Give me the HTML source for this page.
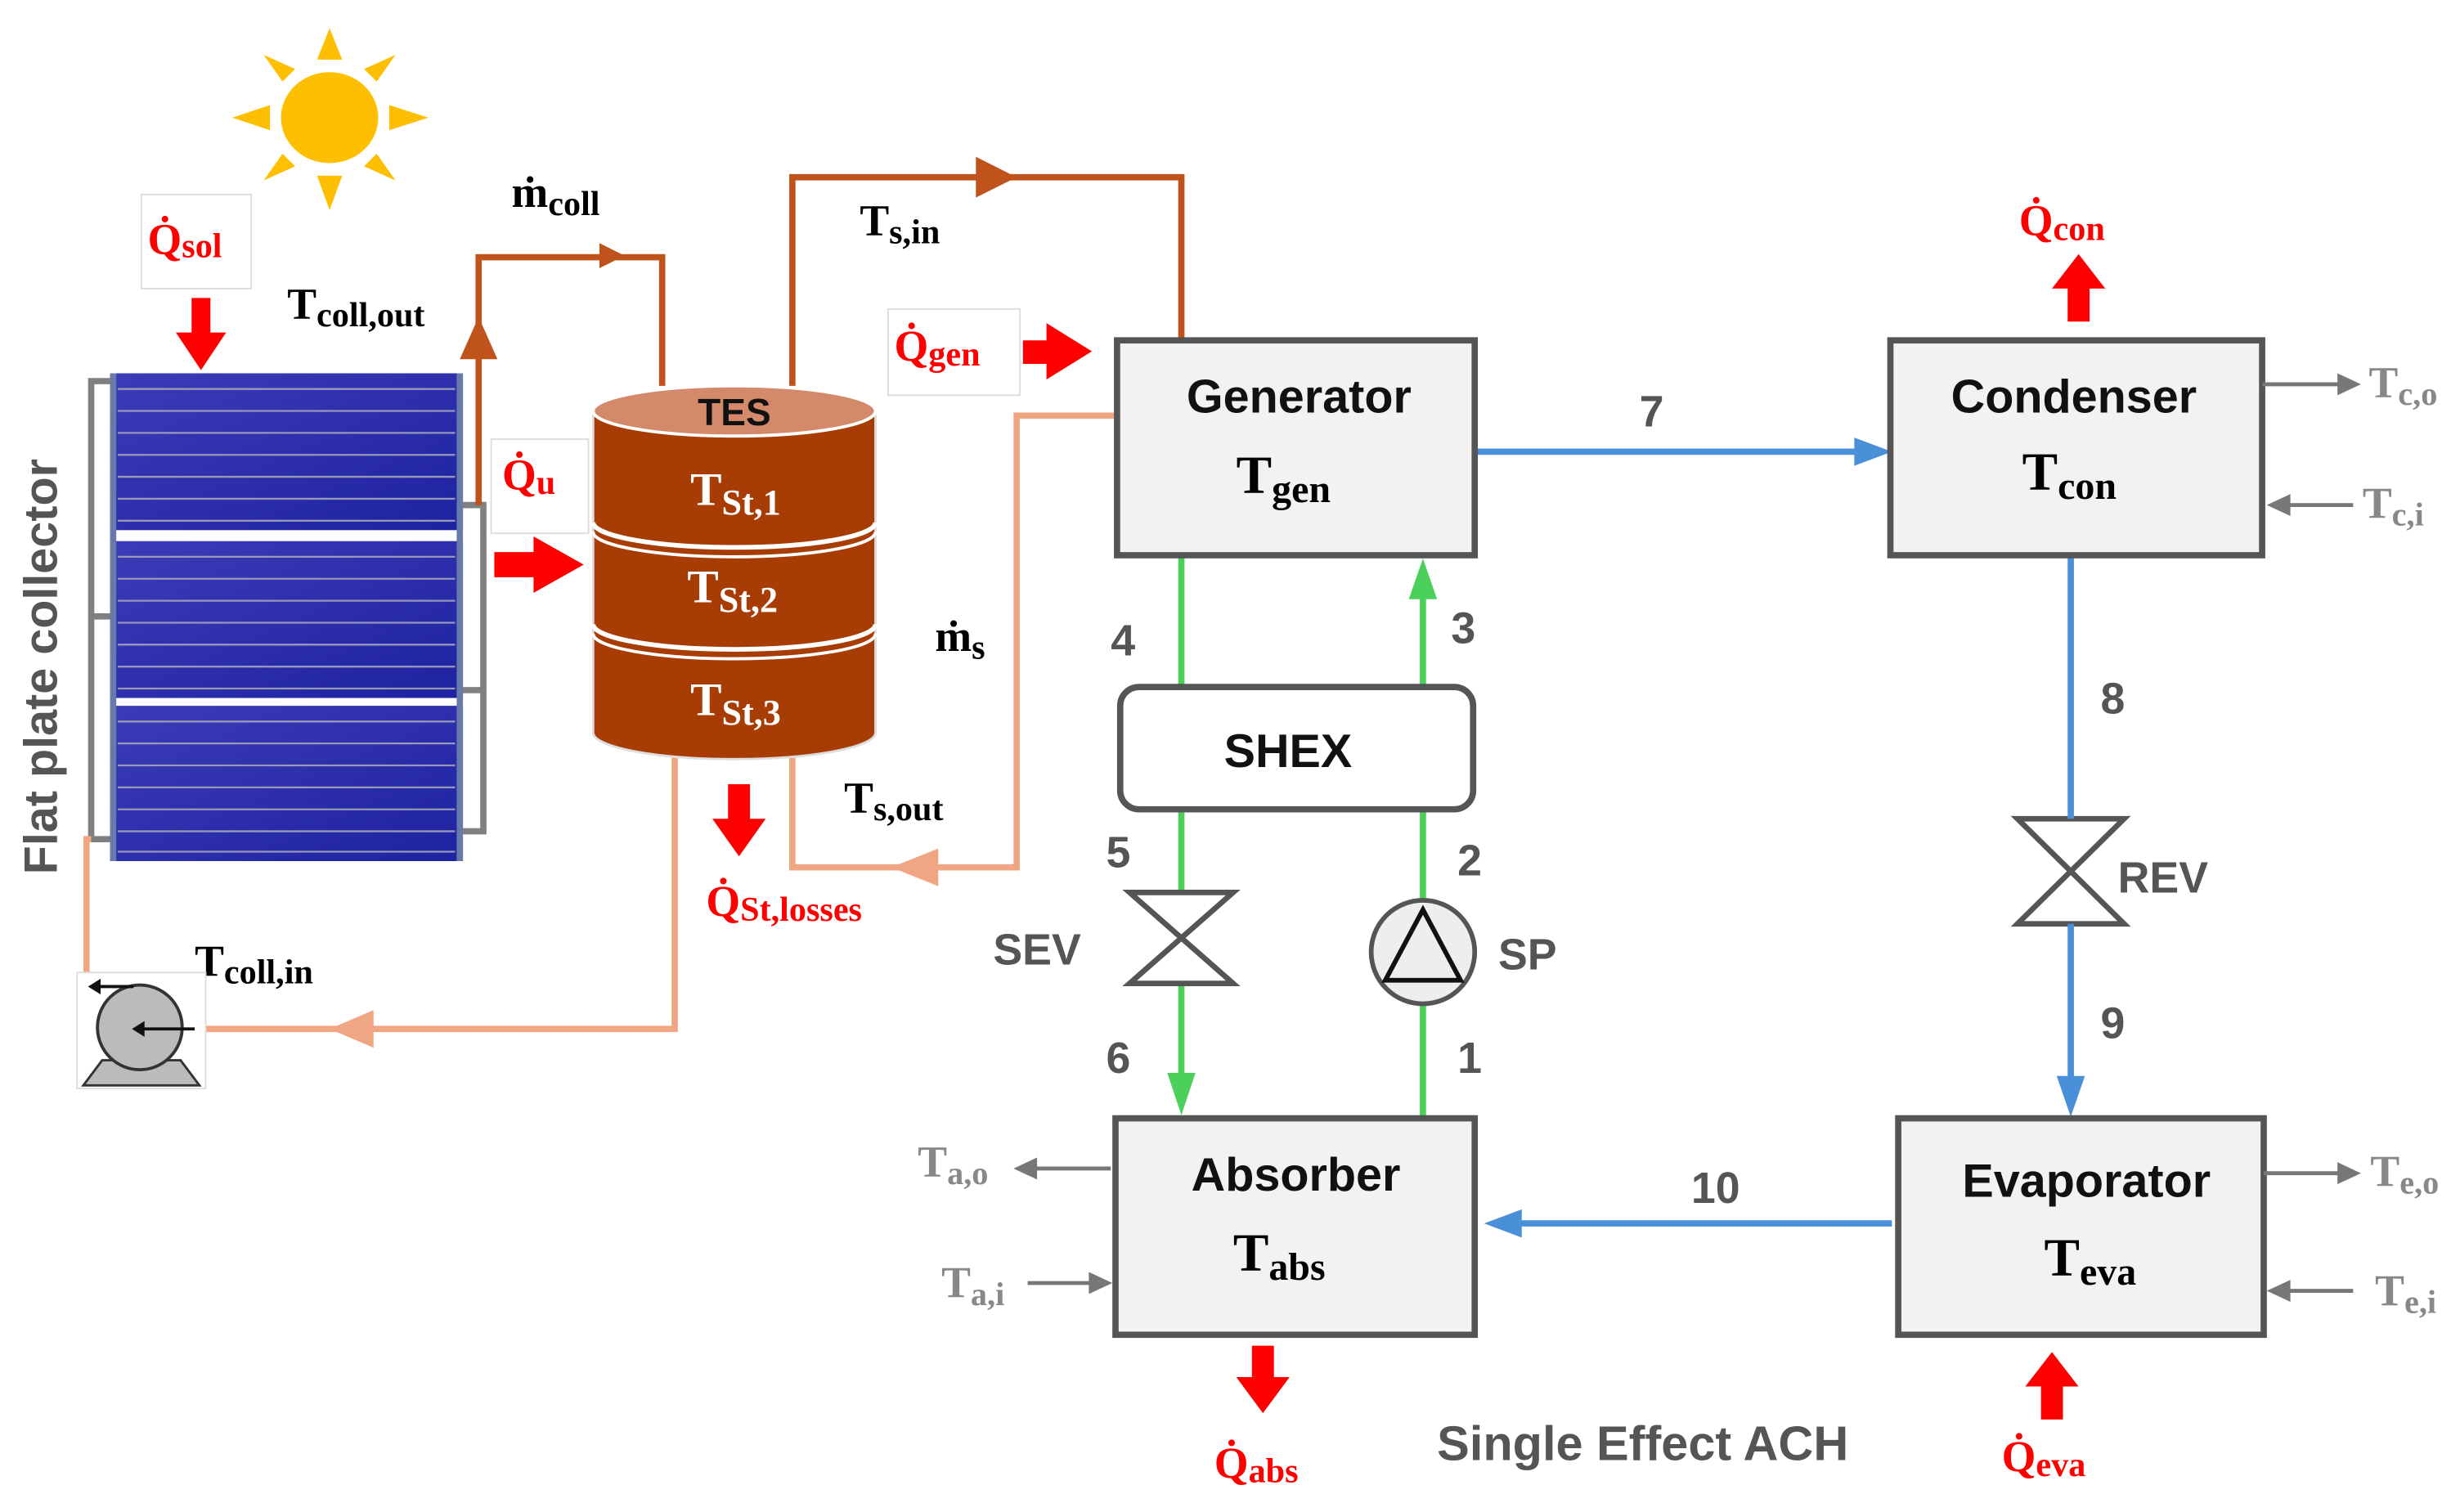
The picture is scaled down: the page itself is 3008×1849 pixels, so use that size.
<!DOCTYPE html>
<html><head><meta charset="utf-8"><style>
html,body{margin:0;padding:0;background:#fff;}
svg{display:block;}
.s{font-family:"Liberation Serif",serif;font-weight:bold;}
.a{font-family:"Liberation Sans",sans-serif;font-weight:bold;}
</style></head><body>
<svg width="3008" height="1849" viewBox="0 0 1568 964" xmlns="http://www.w3.org/2000/svg">
<defs>
<linearGradient id="pg" x1="0" y1="0" x2="1" y2="1"><stop offset="0" stop-color="#3c3cb8"/><stop offset="1" stop-color="#1e22a0"/></linearGradient>
</defs>

<!-- Sun -->
<g fill="#fdbf00">
<ellipse cx="210" cy="75" rx="31" ry="29"/>
<polygon points="202,38 218,38 210,18"/>
<polygon points="202,112 218,112 210,134"/>
<polygon points="172,67 172,83 148,75"/>
<polygon points="248,67 248,83 273,75"/>
<polygon points="180,52 188,44 168,35"/>
<polygon points="240,52 232,44 252,35"/>
<polygon points="180,98 188,106 168,115"/>
<polygon points="240,98 232,106 252,115"/>
</g>

<!-- Qsol -->
<rect x="90" y="124" width="70" height="60" fill="#fff" stroke="#ddd" stroke-width="1"/>
<text x="94" y="162" class="s" fill="#f00" font-size="28">Q̇<tspan font-size="22" dy="2">sol</tspan></text>
<polygon points="122,190 134,190 134,212 144,212 128,236 112,212 122,212" fill="#f00"/>
<text x="183" y="203" class="s" font-size="28">T<tspan font-size="22" dy="5">coll,out</tspan></text>

<!-- collector manifolds -->
<g fill="none" stroke="#808080" stroke-width="4">
<polyline points="70,243 58,243 58,535 70,535"/>
<line x1="58" y1="393" x2="70" y2="393"/>
<polyline points="295,322 308,322 308,530 295,530"/>
<line x1="295" y1="440" x2="308" y2="440"/>
</g>
<!-- panels -->
<g>
<rect x="70" y="238" width="225" height="100" fill="url(#pg)"/>
<rect x="70" y="345" width="225" height="100" fill="url(#pg)"/>
<rect x="70" y="450" width="225" height="99" fill="url(#pg)"/>
<g stroke="#aab" stroke-width="1.2" opacity="0.85">
<line x1="75" y1="248" x2="290" y2="248"/><line x1="75" y1="262" x2="290" y2="262"/><line x1="75" y1="276" x2="290" y2="276"/><line x1="75" y1="290" x2="290" y2="290"/><line x1="75" y1="304" x2="290" y2="304"/><line x1="75" y1="318" x2="290" y2="318"/><line x1="75" y1="332" x2="290" y2="332"/>
<line x1="75" y1="355" x2="290" y2="355"/><line x1="75" y1="369" x2="290" y2="369"/><line x1="75" y1="383" x2="290" y2="383"/><line x1="75" y1="397" x2="290" y2="397"/><line x1="75" y1="411" x2="290" y2="411"/><line x1="75" y1="425" x2="290" y2="425"/><line x1="75" y1="439" x2="290" y2="439"/>
<line x1="75" y1="460" x2="290" y2="460"/><line x1="75" y1="474" x2="290" y2="474"/><line x1="75" y1="488" x2="290" y2="488"/><line x1="75" y1="502" x2="290" y2="502"/><line x1="75" y1="516" x2="290" y2="516"/><line x1="75" y1="530" x2="290" y2="530"/><line x1="75" y1="543" x2="290" y2="543"/>
</g>
<g fill="#6a7aa8"><rect x="70" y="238" width="4" height="311"/><rect x="291" y="238" width="4" height="311"/></g>
</g>
<text transform="translate(36,425) rotate(-90)" text-anchor="middle" class="a" fill="#555" font-size="30">Flat plate collector</text>

<!-- orange collector outlet pipe -->
<polyline points="305,322 305,164 422,164 422,246" fill="none" stroke="#c0531b" stroke-width="4"/>
<polygon points="293,229 317,229 305,202" fill="#c0531b"/>
<polygon points="382,155 382,171 398,163" fill="#c0531b"/>
<text x="326" y="132" class="s" font-size="28">ṁ<tspan font-size="22" dy="5">coll</tspan></text>

<!-- Qu -->
<rect x="313" y="280" width="62" height="60" fill="#fff" stroke="#ddd" stroke-width="1"/>
<text x="320" y="312" class="s" fill="#f00" font-size="28">Q̇<tspan font-size="22" dy="3">u</tspan></text>
<polygon points="315,352 340,352 340,342 372,360 340,378 340,368 315,368" fill="#f00"/>

<!-- Ts,in pipe -->
<polyline points="505,246 505,113 753,113 753,217" fill="none" stroke="#c0531b" stroke-width="4"/>
<polygon points="622,100 622,126 648,113" fill="#c0531b"/>
<text x="548" y="150" class="s" font-size="28">T<tspan font-size="22" dy="5">s,in</tspan></text>

<!-- Qgen -->
<rect x="566" y="197" width="84" height="55" fill="#fff" stroke="#ddd" stroke-width="1"/>
<text x="570" y="230" class="s" fill="#f00" font-size="28">Q̇<tspan font-size="22" dy="3">gen</tspan></text>
<polygon points="652,217 667,217 667,206 696,224 667,242 667,232 652,232" fill="#f00"/>

<!-- light return pipes -->
<polyline points="711,265 648,265 648,553 505,553 505,483" fill="none" stroke="#f0a682" stroke-width="4"/>
<polygon points="598,541 598,565 568,553" fill="#f0a682"/>
<polyline points="430,483 430,656 130,656" fill="none" stroke="#f0a682" stroke-width="4"/>
<polygon points="238,644 238,668 210,656" fill="#f0a682"/>
<polyline points="55,620 55,535 58,535" fill="none" stroke="#f0a682" stroke-width="4"/>

<!-- TES tank -->
<g>
<path d="M378,262 L378,467 A90,17 0 0 0 558,467 L558,262 Z" fill="#a83c05" stroke="#ddd" stroke-width="1.5"/>
<ellipse cx="468" cy="262" rx="90" ry="16" fill="#d4896a" stroke="#fff" stroke-width="2"/>
<path d="M378,333 A90,16 0 0 0 558,333" fill="none" stroke="#fff" stroke-width="3"/>
<path d="M378,339 A90,16 0 0 0 558,339" fill="none" stroke="#fff" stroke-width="2"/>
<path d="M378,398 A90,16 0 0 0 558,398" fill="none" stroke="#fff" stroke-width="3"/>
<path d="M378,404 A90,16 0 0 0 558,404" fill="none" stroke="#fff" stroke-width="2"/>
<text x="468" y="271" text-anchor="middle" class="a" font-size="24" fill="#111">TES</text>
<text x="440" y="322" class="s" fill="#fff" font-size="30">T<tspan font-size="23" dy="6">St,1</tspan></text>
<text x="438" y="384" class="s" fill="#fff" font-size="30">T<tspan font-size="23" dy="6">St,2</tspan></text>
<text x="440" y="456" class="s" fill="#fff" font-size="30">T<tspan font-size="23" dy="6">St,3</tspan></text>
</g>

<polygon points="464,500 478,500 478,522 488,522 471,546 454,522 464,522" fill="#f00"/>
<text x="450" y="584" class="s" fill="#f00" font-size="28">Q̇<tspan font-size="22" dy="3">St,losses</tspan></text>
<text x="596" y="415" class="s" font-size="28">ṁ<tspan font-size="22" dy="5">s</tspan></text>
<text x="538" y="518" class="s" font-size="28">T<tspan font-size="22" dy="5">s,out</tspan></text>
<text x="124" y="622" class="s" font-size="28">T<tspan font-size="22" dy="5">coll,in</tspan></text>

<!-- Pump -->
<rect x="49" y="620" width="82" height="74" fill="#fff" stroke="#ddd" stroke-width="1"/>
<polygon points="53,692 127,692 115,676 65,676" fill="#bbb" stroke="#333" stroke-width="1.5"/>
<circle cx="89" cy="655" r="27" fill="#bbb" stroke="#333" stroke-width="2"/>
<line x1="90" y1="656" x2="124" y2="656" stroke="#111" stroke-width="2"/>
<polygon points="84,656 92,651 92,661" fill="#111"/>
<line x1="62" y1="629" x2="85" y2="629" stroke="#111" stroke-width="2"/>
<polygon points="56,629 64,624 64,634" fill="#111"/>

<!-- Green lines -->
<g stroke="#4cd05c" stroke-width="4" fill="none">
<line x1="753" y1="354" x2="753" y2="438"/>
<line x1="753" y1="516" x2="753" y2="568"/>
<line x1="753" y1="628" x2="753" y2="688"/>
<line x1="907" y1="438" x2="907" y2="378"/>
<line x1="907" y1="516" x2="907" y2="575"/>
<line x1="907" y1="640" x2="907" y2="713"/>
</g>
<polygon points="744,684 762,684 753,711" fill="#4cd05c"/>
<polygon points="898,382 916,382 907,356" fill="#4cd05c"/>

<!-- SEV valve -->
<polygon points="720,569 786,569 720,627 786,627" fill="#fff" stroke="#555" stroke-width="3.5"/>
<!-- SP pump -->
<circle cx="907" cy="607" r="33" fill="#eee" stroke="#555" stroke-width="3"/>
<polygon points="907,580 883,625 931,625" fill="none" stroke="#111" stroke-width="3"/>
<!-- REV valve -->
<polygon points="1286,522 1354,522 1286,589 1354,589" fill="#fff" stroke="#555" stroke-width="3.5"/>

<!-- Blue lines -->
<g stroke="#4a90d9" stroke-width="4" fill="none">
<line x1="940" y1="288" x2="1185" y2="288"/>
<line x1="1320" y1="354" x2="1320" y2="522"/>
<line x1="1320" y1="589" x2="1320" y2="690"/>
<line x1="1206" y1="780" x2="968" y2="780"/>
</g>
<polygon points="1182,279 1182,297 1206,288" fill="#4a90d9"/>
<polygon points="1311,686 1329,686 1320,712" fill="#4a90d9"/>
<polygon points="970,771 970,789 946,780" fill="#4a90d9"/>

<!-- Boxes -->
<g fill="#f2f2f2" stroke="#555" stroke-width="4">
<rect x="712" y="217" width="228" height="137"/>
<rect x="1205" y="217" width="237" height="137"/>
<rect x="711" y="713" width="229" height="138"/>
<rect x="1210" y="713" width="233" height="138"/>
</g>
<rect x="714" y="438" width="225" height="78" rx="12" fill="#fff" stroke="#555" stroke-width="4"/>

<g class="a" fill="#111" font-size="30" text-anchor="middle">
<text x="828" y="263">Generator</text>
<text x="1322" y="263">Condenser</text>
<text x="826" y="759">Absorber</text>
<text x="1330" y="763">Evaporator</text>
<text x="821" y="489">SHEX</text>
</g>
<text x="788" y="314" class="s" font-size="34">T<tspan font-size="25" dy="6">gen</tspan></text>
<text x="1289" y="312" class="s" font-size="34">T<tspan font-size="25" dy="6">con</tspan></text>
<text x="786" y="810" class="s" font-size="34">T<tspan font-size="25" dy="6">abs</tspan></text>
<text x="1303" y="813" class="s" font-size="34">T<tspan font-size="25" dy="6">eva</tspan></text>

<!-- numbers -->
<g class="a" fill="#555" font-size="28">
<text x="708" y="418">4</text>
<text x="925" y="410">3</text>
<text x="705" y="553">5</text>
<text x="929" y="558">2</text>
<text x="705" y="684">6</text>
<text x="929" y="684">1</text>
<text x="1045" y="272">7</text>
<text x="1339" y="455">8</text>
<text x="1339" y="662">9</text>
<text x="1078" y="767">10</text>
<text x="633" y="615">SEV</text>
<text x="955" y="618">SP</text>
<text x="1350" y="569">REV</text>
<text x="916" y="931" font-size="31">Single Effect ACH</text>
</g>

<!-- side gray arrows -->
<g stroke="#777" stroke-width="2.5">
<line x1="1442" y1="245" x2="1493" y2="245"/>
<line x1="1500" y1="322" x2="1457" y2="322"/>
<line x1="1443" y1="748" x2="1493" y2="748"/>
<line x1="1500" y1="823" x2="1457" y2="823"/>
<line x1="708" y1="745" x2="658" y2="745"/>
<line x1="655" y1="818" x2="696" y2="818"/>
</g>
<g fill="#777">
<polygon points="1490,238 1490,252 1505,245"/>
<polygon points="1460,315 1460,329 1445,322"/>
<polygon points="1490,741 1490,755 1505,748"/>
<polygon points="1460,816 1460,830 1445,823"/>
<polygon points="661,738 661,752 646,745"/>
<polygon points="694,811 694,825 709,818"/>
</g>
<g class="s" fill="#888" font-size="28">
<text x="1510" y="253">T<tspan font-size="21" dy="5">c,o</tspan></text>
<text x="1506" y="330">T<tspan font-size="21" dy="5">c,i</tspan></text>
<text x="1511" y="756">T<tspan font-size="21" dy="5">e,o</tspan></text>
<text x="1514" y="832">T<tspan font-size="21" dy="5">e,i</tspan></text>
<text x="585" y="750">T<tspan font-size="21" dy="5">a,o</tspan></text>
<text x="600" y="827">T<tspan font-size="21" dy="5">a,i</tspan></text>
</g>

<!-- heat arrows -->
<polygon points="1318,205 1332,205 1332,184 1342,184 1325,162 1308,184 1318,184" fill="#f00"/>
<text x="1287" y="150" class="s" fill="#f00" font-size="28">Q̇<tspan font-size="22" dy="3">con</tspan></text>
<polygon points="798,858 812,858 812,878 822,878 805,901 788,878 798,878" fill="#f00"/>
<text x="774" y="942" class="s" fill="#f00" font-size="28">Q̇<tspan font-size="22" dy="3">abs</tspan></text>
<polygon points="1301,905 1315,905 1315,884 1325,884 1308,862 1291,884 1301,884" fill="#f00"/>
<text x="1276" y="938" class="s" fill="#f00" font-size="28">Q̇<tspan font-size="22" dy="3">eva</tspan></text>
</svg>
</body></html>
